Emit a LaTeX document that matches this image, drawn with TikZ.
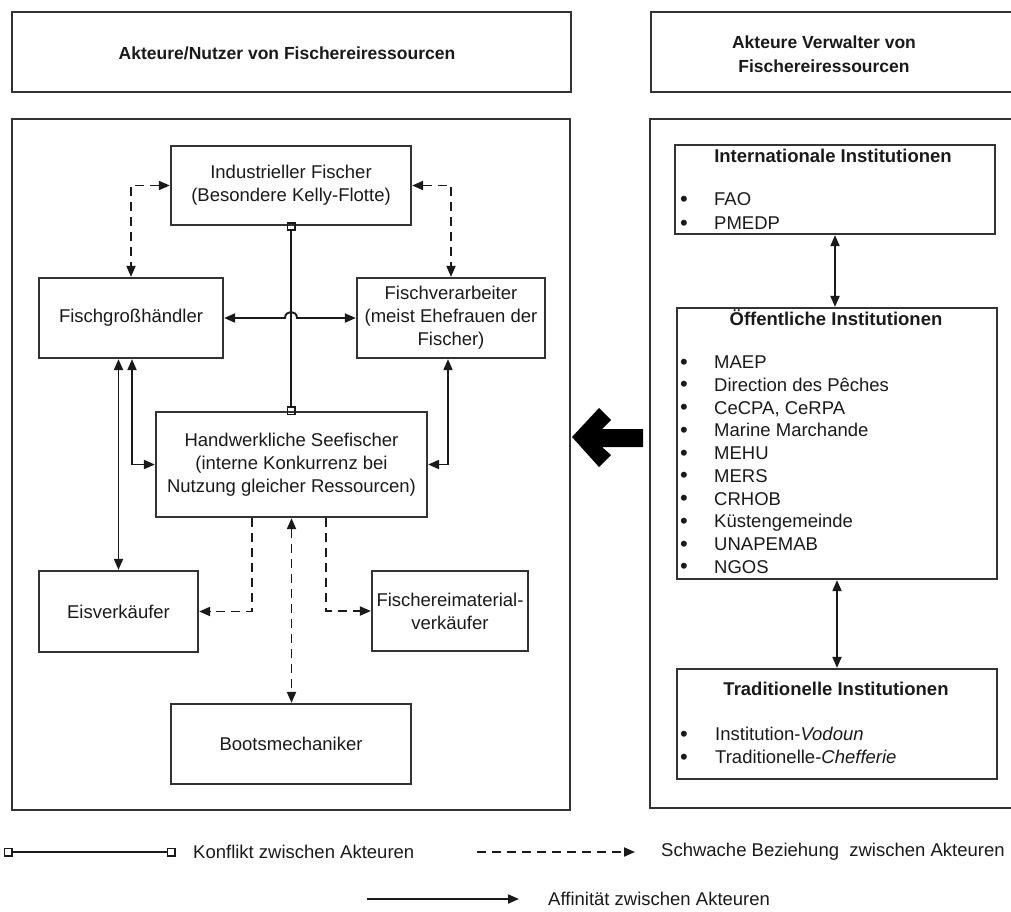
\documentclass[tikz,border=0pt]{standalone}
\usepackage{fontspec}
\setmainfont{Liberation Sans}
\usetikzlibrary{arrows.meta,calc}
\definecolor{frame}{HTML}{333333}
\definecolor{ink}{HTML}{1A1A1A}
\begin{document}
\begin{tikzpicture}[x=1pt,y=-1pt,
  every node/.style={font=\fontsize{18.5}{22.8}\selectfont, text=ink},
  box/.style={draw=frame, line width=2.2pt, align=center, inner sep=0pt},
  frm/.style={draw=frame, line width=2.2pt},
  lbl/.style={inner sep=0pt},
  bul/.style={inner sep=0pt, anchor=base, font=\fontsize{22}{22}\selectfont},
  hdr/.style={inner sep=0pt, align=center, font=\fontsize{17.5}{24}\selectfont\bfseries},
  ttl/.style={inner sep=0pt, anchor=base, font=\fontsize{18.5}{22.8}\selectfont\bfseries},
  aff/.style={draw=ink, line width=1.9pt},
  weak/.style={draw=ink, line width=1.9pt, dash pattern=on 9pt off 6pt},
  conf/.style={draw=ink, line width=1.9pt,
    arrows={Square[open,length=9pt,width=9pt]-Square[open,length=9pt,width=9pt]},
    shorten <=-4.5pt, shorten >=-4.5pt},
  >={Triangle[length=11pt,width=9pt]}
]
\useasboundingbox (0,0) rectangle (1011,911);

% headers
\draw[frm] (12,12) rectangle (571,92);
\draw[frm] (651,12) rectangle (1016,92);
\node[hdr] (hl) at (287,53) {Akteure/Nutzer von Fischereiressourcen};
\node[hdr] (hr) at (824,54) {Akteure Verwalter von\\Fischereiressourcen};

% big frames
\draw[frm] (12,119) rectangle (570,810);
\draw[frm] (650,119) rectangle (1016,808);

% left nodes
\node[box, minimum width=240pt, minimum height=79pt] (ind) at (291,185.5) {Industrieller Fischer\\(Besondere Kelly-Flotte)};
\node[box, minimum width=184pt, minimum height=80pt] (fg) at (131,318) {Fischgroßhändler};
\node[box, minimum width=188pt, minimum height=80pt] (fv) at (451,318) {Fischverarbeiter\\(meist Ehefrauen der\\Fischer)};
\node[box, minimum width=271pt, minimum height=105pt] (hw) at (291.5,464.5) {Handwerkliche Seefischer\\(interne Konkurrenz bei\\Nutzung gleicher Ressourcen)};
\node[box, minimum width=159pt, minimum height=81pt] (eis) at (118.5,611.5) {Eisverkäufer};
\node[box, minimum width=156pt, minimum height=80pt] (fm) at (450,611) {Fischereimaterial-\\verkäufer};
\node[box, minimum width=240pt, minimum height=80pt] (boot) at (291,744) {Bootsmechaniker};

% left connectors
\draw[weak,<->] (ind.west) -| (fg.north);
\draw[weak,<->] (ind.east) -| (fv.north);
\draw[conf] (ind.south) -- (ind.south |- hw.north);
\draw[aff,<->] (fg.east) -- ($(ind.south |- fg.east)+(-6,0)$)
  .. controls +(0,-8) and +(0,-8) .. ($(ind.south |- fg.east)+(6,0)$) -- (fv.west);
\draw[aff,<->] (fg.south -| eis.north) -- (eis.north);
\draw[aff,<->] ([xshift=1pt]fg.south) |- (hw.west);
\draw[aff,<->] ([xshift=-3pt]fv.south) |- (hw.east);
\draw[weak,->] ([xshift=-39.5pt]hw.south) |- (eis.east);
\draw[weak,->] ([xshift=34.5pt]hw.south) |- (fm.west);
\draw[weak,<->] (hw.south) -- (hw.south |- boot.north);

% right nodes
\node[box, minimum width=320pt, minimum height=89pt] (int) at (835,189.5) {};
\node[box, minimum width=320pt, minimum height=271pt] (oef) at (837,443.5) {};
\node[box, minimum width=320pt, minimum height=110pt] (trad) at (837,724) {};

\node[ttl] (intt) at (833,162) {Internationale Institutionen};
\node[bul] (ib1) at (684,206) {•};
\node[lbl, anchor=base west] (it1) at (714,205.5) {FAO};
\node[bul] (ib2) at (684,230) {•};
\node[lbl, anchor=base west] (it2) at (714,229.5) {PMEDP};

\node[ttl] (oeft) at (836,325) {Öffentliche Institutionen};
\foreach \t [count=\i] in {MAEP, Direction des Pêches, {CeCPA, CeRPA}, Marine Marchande, MEHU, MERS, CRHOB, Küstengemeinde, UNAPEMAB, NGOS}{
  \node[bul] (ob\i) at (684,{369+(\i-1)*22.75}) {•};
  \node[lbl, anchor=base west] (ot\i) at (714,{368.5+(\i-1)*22.75}) {\t};
}

\node[ttl] (tradt) at (836,695.5) {Traditionelle Institutionen};
\node[bul] (tb1) at (684,741) {•};
\node[lbl, anchor=base west] (tt1) at (715,740.5) {Institution-\textit{Vodoun}};
\node[bul] (tb2) at (684,764) {•};
\node[lbl, anchor=base west] (tt2) at (715,763.5) {Traditionelle-\textit{Chefferie}};

\draw[aff,<->] (int.south) -- (int.south |- oef.north);
\draw[aff,<->] (oef.south) -- (oef.south |- trad.north);

% big arrow
\fill[black] (572,437) -- (599,408) -- (611,420) -- (602,429) -- (643,429) -- (643,447)
  -- (602,447) -- (611,455) -- (599,467) -- cycle;

% legend
\coordinate (c1) at (8,852); \coordinate (c2) at (171,852);
\draw[conf] (c1) -- (c2);
\node[lbl, anchor=west] (lc) at (193,852) {Konflikt zwischen Akteuren};
\coordinate (d1) at (477,852); \coordinate (d2) at (635,852);
\draw[weak,->] (d1) -- (d2);
\node[lbl, anchor=west] (ld) at (661,852) {Schwache Beziehung\ \ zwischen Akteuren};
\coordinate (a1) at (367,899); \coordinate (a2) at (519,899);
\draw[aff,->] (a1) -- (a2);
\node[lbl, anchor=west] (la) at (548,899) {Affinität zwischen Akteuren};
\end{tikzpicture}
\end{document}
